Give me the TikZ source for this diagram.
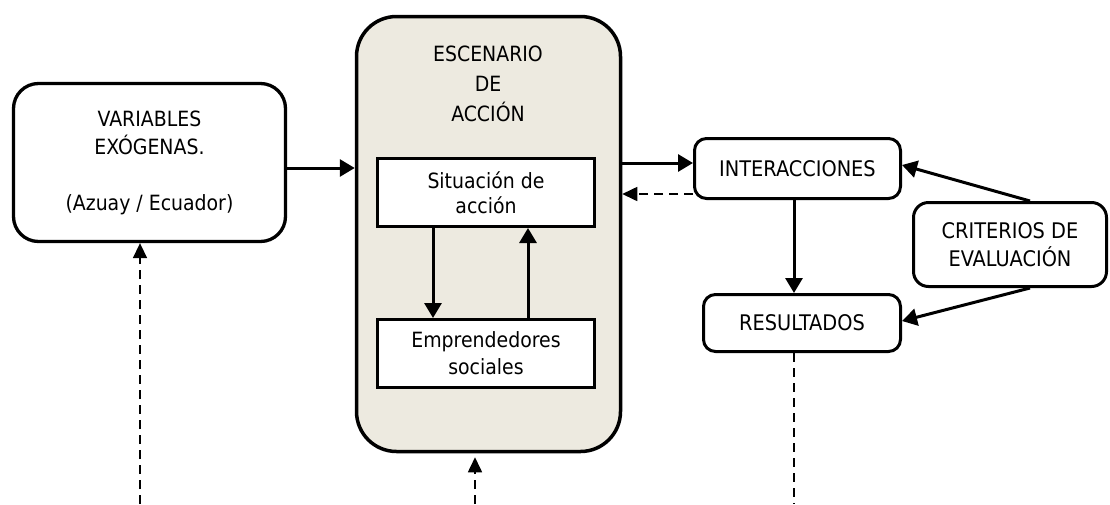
\documentclass[tikz,border=0pt]{standalone}
\usepackage{fontspec}
\setmainfont{DejaVu Sans Condensed}
\usetikzlibrary{arrows.meta,calc}
\definecolor{beige}{RGB}{237,234,224}
\begin{document}
\begin{tikzpicture}[x=1pt,y=-1pt,
  every node/.style={align=center, inner sep=0pt},
  txt/.style={font=\fontsize{21}{#1}\selectfont},
  rbox/.style={draw, line width=3pt, rectangle},
  arr/.style={line width=3pt, -{Triangle[length=15pt,width=17pt]}},
  darr/.style={line width=1.6pt, dash pattern=on 9pt off 6pt, -{Triangle[length=15pt,width=14pt]}},
  dline/.style={line width=1.6pt, dash pattern=on 9pt off 6pt}]
\useasboundingbox (0,0) rectangle (1110,504);

\node[rbox, line width=3.5pt, fill=beige, rounded corners=40pt, minimum width=264pt, minimum height=435pt] (esc) at (488.5,234) {};
\node[txt=30] (esct) at (488,84) {ESCENARIO\\DE\\ACCIÓN};

\node[rbox, line width=3.3pt, rounded corners=25pt, minimum width=272pt, minimum height=158pt, txt=28] (var) at (149.5,162.5) {VARIABLES\\EXÓGENAS.\\[28pt](Azuay / Ecuador)};

\node[rbox, fill=white, minimum width=217pt, minimum height=68pt, txt=25] (sit) at (486,192.5) {Situación de\\acción};
\node[rbox, fill=white, minimum width=217pt, minimum height=68pt, txt=27] (emp) at (486,353.5) {Emprendedores\\sociales};

\node[rbox, rounded corners=12pt, minimum width=206pt, minimum height=60pt, font=\fontsize{21.5}{28}\selectfont] (int) at (797.5,168.5) {INTERACCIONES};
\node[rbox, rounded corners=12pt, minimum width=197pt, minimum height=57pt, font=\fontsize{21.5}{28}\selectfont] (res) at (802,323) {RESULTADOS};
\node[rbox, rounded corners=15pt, minimum width=193pt, minimum height=84pt, font=\fontsize{21.5}{28}\selectfont] (cri) at (1010,244.5) {CRITERIOS DE\\EVALUACIÓN};

\coordinate (vb) at (140,504);
\coordinate (eb) at (475,504);
\coordinate (rb) at (794,504);

\draw[arr] ([yshift=-5.5pt]var.east) -- ([yshift=-5.5pt]var.east -| esc.west);
\draw[arr] ([yshift=5.5pt]int.west -| esc.east) -- ([yshift=5.5pt]int.west);
\draw[darr] ([yshift=-25.5pt]int.west) -- ([yshift=-25.5pt]int.west -| esc.east);
\draw[arr] ([xshift=-53pt]sit.south) -- ([xshift=-53pt]emp.north);
\draw[arr] ([xshift=42pt]emp.north) -- ([xshift=42pt]sit.south);
\draw[arr] ([xshift=-3.5pt]int.south) -- ([xshift=-3.5pt]int.south |- res.north);
\draw[arr] ([xshift=20pt]cri.north) -- ([yshift=3.5pt]int.east);
\draw[arr] ([xshift=20pt]cri.south) -- ([yshift=2pt]res.east);
\draw[darr] (vb) -- (vb |- var.south);
\draw[darr, shorten >=4pt] (eb) -- (eb |- esc.south);
\draw[dline] (rb |- res.south) -- (rb);
\end{tikzpicture}
\end{document}
